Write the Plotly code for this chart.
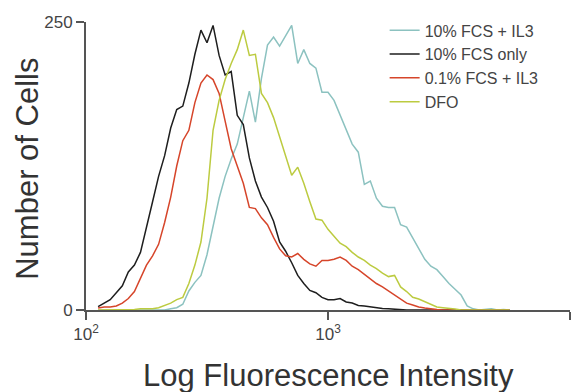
import plotly.graph_objects as go

# Fluorescence intensity channels (log-spaced histogram bins)
fluorescence = [112.2, 118.9, 125.9, 133.4, 141.3, 149.6, 158.5, 167.9, 177.8, 188.4,
                199.5, 211.3, 223.9, 237.1, 251.2, 266.1, 281.8, 298.5, 316.2, 335.0,
                354.8, 375.8, 398.1, 421.7, 446.7, 473.2, 501.2, 530.9, 562.3, 595.7,
                631.0, 668.3, 707.9, 749.9, 794.3, 841.4, 891.3, 944.1, 1000, 1059,
                1122, 1189, 1259, 1334, 1413, 1496, 1585, 1679, 1778, 1884,
                1995, 2113, 2239, 2371, 2512, 2661, 2818, 2985, 3162, 3350,
                3548, 3758, 3981, 4217, 4467, 4732, 5012, 5309, 5623]

fcs10_il3 = [0, 0, 0, 0, 0, 0, 0, 0, 0, 0,
             0, 0, 1, 2, 5, 16.5, 24, 30, 48, 72,
             97, 116, 131, 144, 168, 190, 163, 201, 230, 237,
             229, 238, 247, 214, 226, 214, 210, 189, 189, 182,
             169, 156, 144, 137, 109, 112, 97, 90, 89, 89,
             74, 72, 63, 53, 44, 38, 35, 29, 23, 18,
             13, 3.5, 1, 0, 0.4, 1, 0, 0.5, 0]

fcs10_only = [3, 6, 9, 15, 21, 33, 39, 50, 73, 94,
              116, 134, 158, 174, 177, 197, 222, 243, 232, 247,
              221, 204, 207, 169, 161, 132, 112, 98, 89, 77,
              59, 51, 41, 30, 23, 17, 15, 11, 9, 9,
              10, 7, 6, 4, 3.5, 2.6, 1.7, 1.3, 1, 0.5,
              0, 0, 0, 0, 0, 0, 0, 0, 0, 0,
              0, 0, 0, 0, 0, 0, 0, 0, 0]

fcs01_il3 = [1.7, 2.6, 2.6, 3.5, 6, 10, 16, 27, 39, 47,
             57, 76, 98, 125, 147, 156, 180, 197, 204, 200,
             188, 164, 140, 125, 110, 89, 88, 80, 74, 63,
             53, 47, 46, 49, 44, 40, 38, 43, 43, 44,
             46, 43, 38, 35, 31, 27, 23, 20, 16.5, 13,
             9.5, 6, 4.3, 2.6, 1.7, 0.9, 0.4, 0, 0, 0,
             0, 0, 0, 0, 0, 0, 0, 0, 0]

dfo = [0, 0, 0, 0, 0, 0, 0.5, 1, 1, 1,
       2, 4, 6, 9, 11, 23, 39, 59, 97, 156,
       182, 200, 214, 226, 243, 221, 222, 188, 180, 167,
       150, 134, 117, 124, 110, 94, 79, 78, 70, 64,
       58, 55, 50, 46, 43, 39, 36, 32, 29, 30,
       20, 16, 11, 9.5, 7, 5, 2.6, 2, 1.7, 0.9,
       0, 0, 0, 0, 0, 0, 0, 0, 0]

series_names = ["10% FCS + IL3", "10% FCS only", "0.1% FCS + IL3", "DFO"]
series_values = [fcs10_il3, fcs10_only, fcs01_il3, dfo]
series_colors = ["#8cc2c0", "#1e1e1e", "#d6452a", "#bccb40"]

x_tick_vals = [100, 1000, 10000]
x_tick_text = ["10<sup>2</sup>", "10<sup>3</sup>", "10<sup>4</sup>"]
y_tick_vals = [0, 250]
y_tick_text = ["0", "250"]

fig = go.Figure()
for name, vals, col in zip(series_names, series_values, series_colors):
    fig.add_trace(go.Scatter(x=fluorescence, y=vals, mode="lines", name=name,
                             line=dict(color=col, width=1.5)))

axis_color = "#555555"
fig.update_layout(
    width=581, height=392,
    margin=dict(l=86, r=11, t=22, b=82),
    paper_bgcolor="white", plot_bgcolor="white",
    font=dict(family="Liberation Sans, Arial, sans-serif", color="#444444"),
    showlegend=True,
    legend=dict(x=0.617, y=1.03, xanchor="left", yanchor="top",
                font=dict(size=16, color="#444444"),
                bgcolor="rgba(0,0,0,0)", tracegroupgap=0),
    xaxis=dict(type="log", range=[2, 4], tickvals=x_tick_vals, ticktext=x_tick_text,
               showgrid=False, zeroline=False, showline=True, linecolor=axis_color,
               linewidth=2, ticks="outside", ticklen=8, tickcolor=axis_color, tickwidth=1.5,
               tickfont=dict(size=17, color="#444444")),
    yaxis=dict(range=[0, 250], tickvals=y_tick_vals, ticktext=y_tick_text,
               showgrid=False, zeroline=False, showline=True, linecolor=axis_color,
               linewidth=2, ticks="outside", ticklen=8, tickcolor=axis_color, tickwidth=1.5,
               tickfont=dict(size=17, color="#444444")),
    annotations=[
        dict(text="Log Fluorescence Intensity", xref="paper", yref="paper",
             x=0.5, y=-0.226, xanchor="center", yanchor="middle", showarrow=False,
             font=dict(size=31, color="#333333")),
        dict(text="Number of Cells", xref="paper", yref="paper",
             x=-0.12, y=0.49, xanchor="center", yanchor="middle", showarrow=False,
             textangle=-90, font=dict(size=31, color="#333333")),
    ],
)

fig.write_html("out.html",
               config={"displayModeBar": False, "staticPlot": True},
               post_script="document.body.style.margin='0';document.body.style.padding='0';")
